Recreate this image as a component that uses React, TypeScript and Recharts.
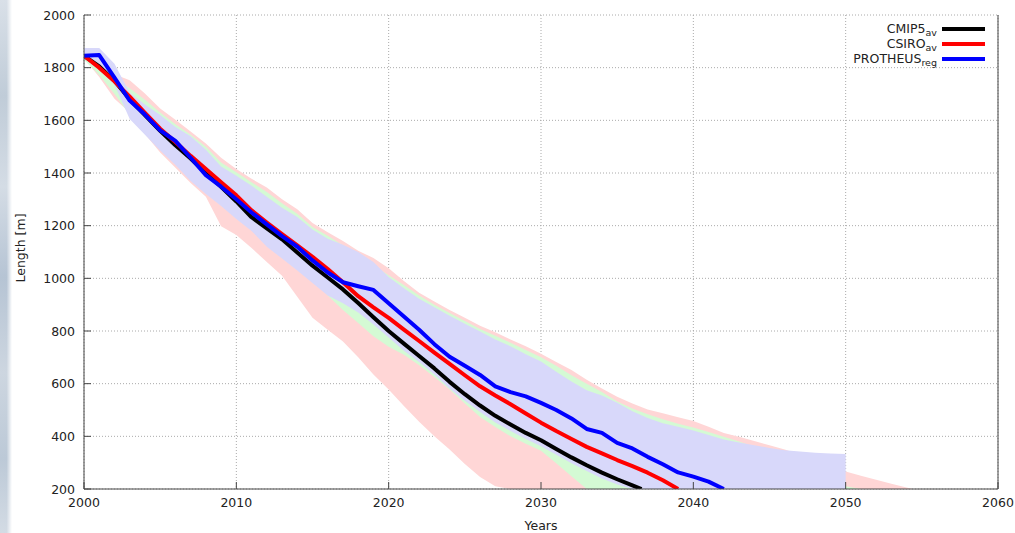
import React from 'react';
import {
  ComposedChart,
  Area,
  Line,
  XAxis,
  YAxis,
  CartesianGrid,
  Legend,
} from 'recharts';

// [year, length in m]
const cmip5Av: [number, number][] = [
  [2000, 1845], [2001, 1805], [2002, 1750], [2003, 1680], [2004, 1620],
  [2005, 1560], [2006, 1505], [2007, 1455], [2008, 1400], [2009, 1348],
  [2010, 1292], [2011, 1232], [2012, 1190], [2013, 1148], [2014, 1098],
  [2015, 1048], [2016, 1003], [2017, 958], [2018, 906], [2019, 852],
  [2020, 800], [2021, 752], [2022, 705], [2023, 658], [2024, 607],
  [2025, 560], [2026, 517], [2027, 478], [2028, 445], [2029, 413],
  [2030, 385], [2031, 352], [2032, 320], [2033, 290], [2034, 262],
  [2035, 237], [2036, 214], [2036.6, 200],
];

const csiroAv: [number, number][] = [
  [2000, 1845], [2001, 1800], [2002, 1748], [2003, 1690], [2004, 1628],
  [2005, 1568], [2006, 1518], [2007, 1465], [2008, 1415], [2009, 1365],
  [2010, 1315], [2011, 1258], [2012, 1212], [2013, 1168], [2014, 1125],
  [2015, 1082], [2016, 1035], [2017, 985], [2018, 932], [2019, 890],
  [2020, 850], [2021, 805], [2022, 762], [2023, 718], [2024, 675],
  [2025, 632], [2026, 590], [2027, 555], [2028, 522], [2029, 487],
  [2030, 452], [2031, 420], [2032, 390], [2033, 360], [2034, 335],
  [2035, 310], [2036, 287], [2037, 262], [2038, 233], [2039, 200],
];

const protheusReg: [number, number][] = [
  [2000, 1845], [2001, 1848], [2002, 1762], [2003, 1675], [2004, 1622],
  [2005, 1562], [2006, 1522], [2007, 1458], [2008, 1392], [2009, 1348],
  [2010, 1300], [2011, 1250], [2012, 1205], [2013, 1160], [2014, 1120],
  [2015, 1068], [2016, 1022], [2017, 985], [2018, 970], [2019, 956],
  [2020, 905], [2021, 855], [2022, 805], [2023, 750], [2024, 702],
  [2025, 668], [2026, 633], [2027, 590], [2028, 568], [2029, 552],
  [2030, 527], [2031, 500], [2032, 468], [2033, 428], [2034, 413],
  [2035, 375], [2036, 354], [2037, 322], [2038, 294], [2039, 263],
  [2040, 247], [2041, 228], [2042, 200],
];

// [year, min, max]
const csiroRange: [number, number, number][] = [
  [2000, 1835, 1850], [2001, 1765, 1815], [2002, 1682, 1775], [2003, 1630, 1752],
  [2004, 1548, 1702], [2005, 1478, 1645], [2006, 1420, 1602], [2007, 1362, 1558],
  [2008, 1310, 1512], [2009, 1198, 1458], [2010, 1165, 1415], [2011, 1115, 1378],
  [2012, 1062, 1345], [2013, 1010, 1300], [2014, 930, 1262], [2015, 850, 1210],
  [2016, 805, 1175], [2017, 760, 1142], [2018, 700, 1105], [2019, 635, 1077],
  [2020, 578, 1038], [2021, 515, 990], [2022, 455, 945], [2023, 400, 912],
  [2024, 350, 880], [2025, 295, 850], [2026, 246, 820], [2027, 210, 795],
  [2028, 200, 768], [2029, 200, 742], [2030, 200, 714], [2031, 200, 682],
  [2032, 200, 652], [2033, 200, 615], [2034, 200, 582], [2035, 200, 550],
  [2036, 200, 525], [2037, 200, 502], [2038, 200, 488], [2039, 200, 472],
  [2040, 200, 458], [2041, 200, 436], [2042, 200, 413], [2043, 200, 398],
  [2044, 200, 382], [2045, 200, 366], [2046, 200, 350], [2047, 200, 330],
  [2048, 200, 310], [2049, 200, 288], [2050, 200, 266], [2051, 200, 250],
  [2052, 200, 235], [2053, 200, 220], [2054, 200, 206], [2054.4, 200, 200],
];

const cmip5Range: [number, number, number][] = [
  [2000, 1830, 1840], [2001, 1772, 1805], [2002, 1700, 1760], [2003, 1620, 1722],
  [2004, 1560, 1678], [2005, 1500, 1630], [2006, 1445, 1585], [2007, 1385, 1545],
  [2008, 1335, 1500], [2009, 1290, 1440], [2010, 1240, 1403], [2011, 1195, 1365],
  [2012, 1135, 1328], [2013, 1090, 1285], [2014, 1045, 1245], [2015, 997, 1195],
  [2016, 935, 1162], [2017, 880, 1125], [2018, 830, 1090], [2019, 780, 1050],
  [2020, 740, 1012], [2021, 710, 975], [2022, 670, 935], [2023, 625, 900],
  [2024, 578, 868], [2025, 525, 838], [2026, 473, 808], [2027, 435, 782],
  [2028, 400, 755], [2029, 372, 728], [2030, 345, 700], [2031, 298, 668],
  [2032, 248, 632], [2033, 200, 600], [2034, 200, 568], [2035, 200, 532],
  [2036, 200, 506], [2037, 200, 484], [2038, 200, 465], [2039, 200, 448],
  [2040, 200, 434], [2041, 200, 416], [2042, 200, 398], [2043, 200, 380],
  [2044, 200, 360], [2045, 200, 338], [2046, 200, 315], [2047, 200, 290],
  [2048, 200, 265], [2049, 200, 238], [2050, 200, 210], [2051, 200, 200],
];

const protheusRange: [number, number, number][] = [
  [2000, 1835, 1875], [2001, 1790, 1875], [2002, 1735, 1815], [2003, 1605, 1705],
  [2004, 1545, 1660], [2005, 1485, 1620], [2006, 1430, 1575], [2007, 1370, 1540],
  [2008, 1320, 1488], [2009, 1275, 1425], [2010, 1225, 1390], [2011, 1180, 1352],
  [2012, 1120, 1310], [2013, 1075, 1268], [2014, 1030, 1233], [2015, 982, 1185],
  [2016, 935, 1150], [2017, 905, 1128], [2018, 870, 1100], [2019, 825, 1062],
  [2020, 775, 1005], [2021, 725, 962], [2022, 682, 922], [2023, 635, 890],
  [2024, 582, 858], [2025, 535, 828], [2026, 492, 798], [2027, 453, 768],
  [2028, 420, 742], [2029, 390, 712], [2030, 362, 684], [2031, 330, 645],
  [2032, 298, 608], [2033, 268, 575], [2034, 240, 555], [2035, 217, 528],
  [2036, 200, 495], [2037, 200, 470], [2038, 200, 450], [2039, 200, 436],
  [2040, 200, 422], [2041, 200, 405], [2042, 200, 388], [2043, 200, 377],
  [2044, 200, 366], [2045, 200, 356], [2046, 200, 347], [2047, 200, 342],
  [2048, 200, 338], [2049, 200, 335], [2050, 200, 333],
];

const xTicks = [2000, 2010, 2020, 2030, 2040, 2050, 2060];
const yTicks = [200, 400, 600, 800, 1000, 1200, 1400, 1600, 1800, 2000];

const legendItems = [
  { name: 'CMIP5', sub: 'av', color: '#000000' },
  { name: 'CSIRO', sub: 'av', color: '#ff0000' },
  { name: 'PROTHEUS', sub: 'reg', color: '#0000ff' },
];

const toLine = (pts: [number, number][]) => pts.map(([year, v]) => ({ year, v }));
const toBand = (pts: [number, number, number][]) =>
  pts.map(([year, lo, hi]) => ({ year, range: [lo, hi] }));

const AXIS = '#444';
const TEXT = '#222';
const TICK_LEN = 7;

function BottomTick(props: any) {
  const { x, y, payload } = props;
  const axisY = y - 9;
  return (
    <g>
      <line x1={x} x2={x} y1={axisY} y2={axisY - TICK_LEN} stroke={AXIS} />
      <text x={x} y={y} dy="0.71em" textAnchor="middle" fill={TEXT}>
        {payload.value}
      </text>
    </g>
  );
}

function LeftTick(props: any) {
  const { x, y, payload } = props;
  const axisX = x + 9;
  return (
    <g>
      <line x1={axisX} x2={axisX + TICK_LEN} y1={y} y2={y} stroke={AXIS} />
      <text x={x} y={y} dy="0.36em" textAnchor="end" fill={TEXT}>
        {payload.value}
      </text>
    </g>
  );
}

function TopTick(props: any) {
  const { x, y } = props;
  return <line x1={x} x2={x} y1={y} y2={y + TICK_LEN} stroke={AXIS} />;
}

function RightTick(props: any) {
  const { x, y } = props;
  return <line x1={x} x2={x - TICK_LEN} y1={y} y2={y} stroke={AXIS} />;
}

function YLabel(props: any) {
  const vb = props.viewBox || { x: 0, y: 15, width: 84, height: 474 };
  const cx = vb.x + 20.5;
  const cy = vb.y + vb.height / 2 - 4;
  return (
    <text
      x={cx}
      y={cy}
      dy="0.36em"
      textAnchor="middle"
      fill={TEXT}
      transform={`rotate(-90 ${cx} ${cy})`}
    >
      Length [m]
    </text>
  );
}

function LegendBox() {
  return (
    <div style={{ width: 200 }}>
      {legendItems.map(item => (
        <div
          key={item.name}
          style={{
            display: 'flex',
            justifyContent: 'flex-end',
            alignItems: 'center',
            height: 15,
          }}
        >
          <span style={{ color: TEXT, lineHeight: '15px', whiteSpace: 'nowrap' }}>
            {item.name}
            <span style={{ fontSize: 9.5, position: 'relative', top: 3 }}>{item.sub}</span>
          </span>
          <span
            style={{
              display: 'inline-block',
              width: 43,
              height: 4,
              background: item.color,
              marginLeft: 5,
            }}
          />
        </div>
      ))}
    </div>
  );
}

export default function App() {
  return (
    <div
      style={{
        position: 'absolute',
        left: 0,
        top: 0,
        width: 1015,
        height: 533,
        background: '#ffffff',
        overflow: 'hidden',
        fontFamily: '"DejaVu Sans", sans-serif',
        fontSize: 12.5,
      }}
    >
      {/* snowy photo strip showing at the left edge */}
      <div
        style={{
          position: 'absolute',
          left: 0,
          top: 0,
          width: 12,
          height: 533,
          background:
            'linear-gradient(180deg, #d9e0e8 0%, #c0ccd8 18%, #d4dce5 35%, #b6c4d4 52%, #cdd6e0 70%, #bcc9d7 86%, #d3dbe4 100%)',
          WebkitMaskImage: 'linear-gradient(90deg, #000 55%, transparent 100%)',
          maskImage: 'linear-gradient(90deg, #000 55%, transparent 100%)',
        }}
      />
      <ComposedChart
        width={1015}
        height={533}
        margin={{ top: 15, right: 0, bottom: 0, left: 0 }}
        style={{ position: 'absolute', left: 0, top: 0 }}
      >
        <CartesianGrid stroke="#aaaaaa" strokeDasharray="1 2" />
        <XAxis
          dataKey="year"
          type="number"
          domain={[2000, 2060]}
          ticks={xTicks}
          interval={0}
          allowDataOverflow
          height={44}
          stroke={AXIS}
          tickSize={0}
          tickMargin={9}
          tickLine={false}
          tick={<BottomTick />}
          label={{ value: 'Years', position: 'insideBottom', offset: 3, fill: TEXT }}
        />
        <XAxis
          xAxisId="top"
          orientation="top"
          dataKey="year"
          type="number"
          domain={[2000, 2060]}
          ticks={xTicks}
          interval={0}
          height={0}
          stroke={AXIS}
          tickSize={0}
          tickMargin={0}
          tickLine={false}
          tick={<TopTick />}
        />
        <YAxis
          type="number"
          domain={[200, 2000]}
          ticks={yTicks}
          interval={0}
          allowDataOverflow
          width={84}
          stroke={AXIS}
          tickSize={0}
          tickMargin={9}
          tickLine={false}
          tick={<LeftTick />}
          label={<YLabel />}
        />
        <YAxis
          yAxisId="right"
          orientation="right"
          type="number"
          domain={[200, 2000]}
          ticks={yTicks}
          interval={0}
          width={17}
          stroke={AXIS}
          tickSize={0}
          tickMargin={0}
          tickLine={false}
          tick={<RightTick />}
        />
        <Area
          data={toBand(csiroRange)}
          dataKey="range"
          type="linear"
          stroke="none"
          fill="#ffd6d6"
          fillOpacity={1}
          isAnimationActive={false}
        />
        <Area
          data={toBand(cmip5Range)}
          dataKey="range"
          type="linear"
          stroke="none"
          fill="#d4fad4"
          fillOpacity={1}
          isAnimationActive={false}
        />
        <Area
          data={toBand(protheusRange)}
          dataKey="range"
          type="linear"
          stroke="none"
          fill="#d8d8fa"
          fillOpacity={1}
          isAnimationActive={false}
        />
        <Line
          data={toLine(cmip5Av)}
          dataKey="v"
          type="linear"
          stroke="#000000"
          strokeWidth={4}
          dot={false}
          strokeLinejoin="round"
          isAnimationActive={false}
        />
        <Line
          data={toLine(csiroAv)}
          dataKey="v"
          type="linear"
          stroke="#ff0000"
          strokeWidth={4}
          dot={false}
          strokeLinejoin="round"
          isAnimationActive={false}
        />
        <Line
          data={toLine(protheusReg)}
          dataKey="v"
          type="linear"
          stroke="#0000ff"
          strokeWidth={4}
          dot={false}
          strokeLinejoin="round"
          isAnimationActive={false}
        />
        <Legend
          layout="vertical"
          align="center"
          verticalAlign="middle"
          content={() => <LegendBox />}
          wrapperStyle={{ left: 785, top: 21, width: 200, height: 45 }}
        />
      </ComposedChart>
    </div>
  );
}
